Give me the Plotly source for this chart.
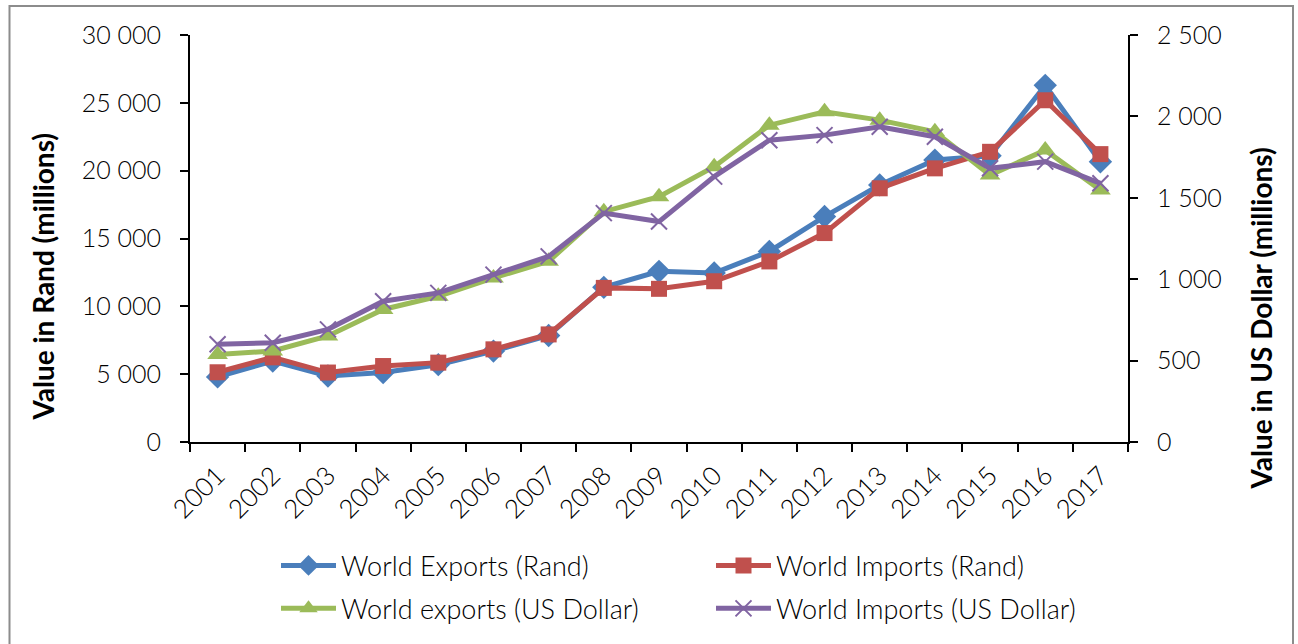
import plotly.graph_objects as go

# Yearly trade values
years = [str(y) for y in range(2001, 2018)]
exports_rand = [4800, 5970, 4870, 5120, 5700, 6700, 7850, 11400, 12580, 12460,
                14050, 16620, 18950, 20780, 21100, 26290, 20660]
imports_rand = [5140, 6240, 5120, 5600, 5850, 6830, 7930, 11360, 11290, 11850,
                13310, 15400, 18700, 20170, 21390, 25190, 21220]
exports_usd = [538, 559, 651, 814, 895, 1008, 1110, 1415, 1507, 1691,
               1946, 2028, 1977, 1905, 1640, 1793, 1548]
imports_usd = [600, 610, 692, 865, 916, 1028, 1140, 1406, 1354, 1630,
               1854, 1885, 1936, 1875, 1681, 1722, 1589]

FONT = "Lato"
W, H = 1298, 644
L, R, T, B = 190, 1128, 34.5, 443  # plot area in pixels


def px_x(p):
    return (p - L) / (R - L)


def px_y(p):
    return (B - p) / (B - T)


light = dict(family=FONT, size=25, color="black", weight=300)
legend_font = dict(family=FONT, size=27, color="black", weight=300)
year_font = dict(family=FONT, size=26, color="black", weight=300)

fig = go.Figure()

fig.add_trace(go.Scatter(
    x=years, y=exports_rand, name="World Exports (Rand)", mode="lines+markers",
    line=dict(color="#4A7EBB", width=5),
    marker=dict(symbol="diamond", size=18, color="#4A7EBB"),
    legend="legend",
))
fig.add_trace(go.Scatter(
    x=years, y=imports_rand, name="World Imports (Rand)", mode="lines+markers",
    line=dict(color="#C0504D", width=5),
    marker=dict(symbol="square", size=16, color="#C0504D"),
    legend="legend",
))
fig.add_trace(go.Scatter(
    x=years, y=exports_usd, name="World exports (US Dollar)", mode="lines+markers",
    yaxis="y2",
    line=dict(color="#9BBB59", width=5),
    marker=dict(symbol="triangle-up", size=18, color="#9BBB59"),
    legend="legend2",
))
fig.add_trace(go.Scatter(
    x=years, y=imports_usd, name="World Imports (US Dollar)", mode="lines+markers",
    yaxis="y2",
    line=dict(color="#8064A2", width=5),
    marker=dict(symbol="x-thin", size=16, color="#8064A2",
                line=dict(color="#8064A2", width=2)),
    legend="legend2",
))

axis_common = dict(
    showline=True, linecolor="black", linewidth=2,
    ticks="outside", ticklen=8, tickwidth=2, tickcolor="black",
    showgrid=False, zeroline=False,
)

legend_common = dict(
    orientation="h", xanchor="left", yanchor="middle",
    entrywidth=365, itemwidth=55, font=legend_font,
    bgcolor="rgba(0,0,0,0)",
)

fig.update_layout(
    width=W, height=H,
    margin=dict(l=L, r=W - R, t=T, b=H - B),
    paper_bgcolor="white", plot_bgcolor="white",
    separators=". ",
    font=dict(family=FONT, color="black"),
    xaxis=dict(
        type="category", range=[-0.5, 16.5], tickson="boundaries",
        tickangle=-45, tickfont=year_font, ticklabelstandoff=6, **axis_common,
    ),
    yaxis=dict(
        range=[0, 30000], dtick=5000, tickformat=",d", tickfont=light,
        ticklabelstandoff=14, **axis_common,
    ),
    yaxis2=dict(
        range=[0, 2500], dtick=500, tickformat=",d", overlaying="y", side="right",
        tickfont=light, ticklabelstandoff=14, **axis_common,
    ),
    legend=dict(x=px_x(276), y=px_y(566), **legend_common),
    legend2=dict(x=px_x(276), y=px_y(609), **legend_common),
    showlegend=True,
)

# Axis titles
title_font = dict(family=FONT, size=28, color="black")
fig.add_annotation(
    text="<b>Value in Rand (millions)</b>", textangle=-90,
    x=px_x(43), y=px_y(277), xref="paper", yref="paper",
    xanchor="center", yanchor="middle",
    showarrow=False, font=title_font,
)
fig.add_annotation(
    text="<b>Value in US Dollar (millions)</b>", textangle=-90,
    x=px_x(1261), y=px_y(319), xref="paper", yref="paper",
    xanchor="center", yanchor="middle",
    showarrow=False, font=title_font,
)

# Chart frame
fig.add_shape(
    type="rect", xref="paper", yref="paper",
    x0=px_x(9.5), x1=px_x(1293), y0=px_y(660), y1=px_y(5.5),
    line=dict(color="#8C8C8C", width=2), layer="below",
)

fig.write_html("out.html")
